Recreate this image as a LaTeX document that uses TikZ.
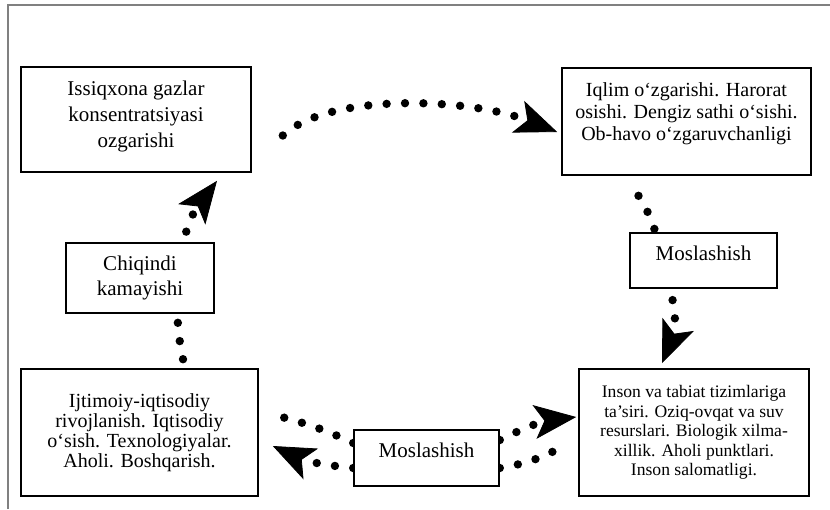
\documentclass[tikz,border=0pt]{standalone}
\usepackage{fontspec}
\setmainfont{Liberation Serif}
\usetikzlibrary{arrows.meta, positioning, backgrounds}

\tikzset{
    box/.style={draw, line width=0.8pt, fill=white, align=center, inner sep=2pt},
    flow/.style={line width=4.2pt, line cap=round, dash pattern=on 0pt off 9.2pt},
    head/.style={-{Stealth[length=21pt, width=17pt, inset=5pt, line width=0.4pt]}}
}

\begin{document}
\begin{tikzpicture}[x=0.5pt, y=-0.5pt]
    \useasboundingbox (0,0) rectangle (830,509);
    % Frame
    \draw[gray, line width=0.6pt] (8,509) -- (8,5) -- (830,5);

    % Nodes
    \node[box, minimum width=115pt, minimum height=52.5pt, text depth=5pt,
          font=\fontsize{10.5pt}{13pt}\selectfont] (ghg) at (136,119.5)
          {Issiqxona gazlar\\konsentratsiyasi\\ozgarishi};
    \node[box, minimum width=124.5pt, minimum height=53.5pt, text depth=10pt,
          font=\fontsize{10pt}{10.8pt}\selectfont] (climate) at (686.5,121.5)
          {Iqlim o‘zgarishi. Harorat\\osishi. Dengiz sathi o‘sishi.\\Ob-havo o‘zgaruvchanligi};
    \node[box, minimum width=74pt, minimum height=35pt,
          font=\fontsize{10.5pt}{12.5pt}\selectfont] (waste) at (140,278)
          {Chiqindi\\kamayishi};
    \node[box, minimum width=73.5pt, minimum height=27.5pt, text depth=7pt,
          font=\fontsize{10.5pt}{12.5pt}\selectfont] (adapt1) at (703.5,260.5)
          {Moslashish};
    \node[box, minimum width=72.5pt, minimum height=28pt, text depth=8pt,
          font=\fontsize{10.5pt}{12.5pt}\selectfont] (adapt2) at (426.5,458)
          {Moslashish};
    \node[box, minimum width=118.5pt, minimum height=63.5pt,
          font=\fontsize{10pt}{10pt}\selectfont] (socio) at (139.5,432.5)
          {Ijtimoiy-iqtisodiy\\rivojlanish. Iqtisodiy\\o‘sish. Texnologiyalar.\\Aholi. Boshqarish.};
    \node[box, minimum width=115pt, minimum height=63.5pt,
          font=\fontsize{8.8pt}{9.75pt}\selectfont] (impact) at (694,432.5)
          {Inson va tabiat tizimlariga\\ta’siri. Oziq-ovqat va suv\\resurslari. Biologik xilma-\\xillik. Aholi punktlari.\\Inson salomatligi.};

    % Arrows
    \begin{scope}[on background layer]
        \draw[flow, head] ([xshift=15.5pt, yshift=-8pt]ghg.east)
            .. controls (330,92) and (470,98) .. ([xshift=-2pt, yshift=-5.25pt]climate.west);
        \draw[flow, head] ([xshift=-24pt, yshift=-10pt]climate.south)
            .. controls (660,225) and (680,320) .. ([xshift=-16pt, yshift=2.5pt]impact.north);
        \draw[flow, head] ([yshift=9pt]adapt2.east) to[bend left=10] ([xshift=-1pt, yshift=7.75pt]impact.west);
        \draw[flow] ([yshift=-5pt]adapt2.east) to[bend right=10] ([xshift=-6pt, yshift=-6pt]impact.west);
        \draw[flow] ([yshift=7.5pt]adapt2.west) to[bend right=5] ([xshift=11.5pt, yshift=7.75pt]socio.east);
        \draw[flow, head] ([yshift=-5pt]adapt2.west) to[bend left=10] ([xshift=7pt, yshift=-6.75pt]socio.east);
        \draw[flow, head] ([xshift=21.75pt, yshift=4.5pt]socio.north)
            .. controls (170,300) and (180,230) .. ([xshift=40.5pt, yshift=-4pt]ghg.south);
    \end{scope}
\end{tikzpicture}
\end{document}
